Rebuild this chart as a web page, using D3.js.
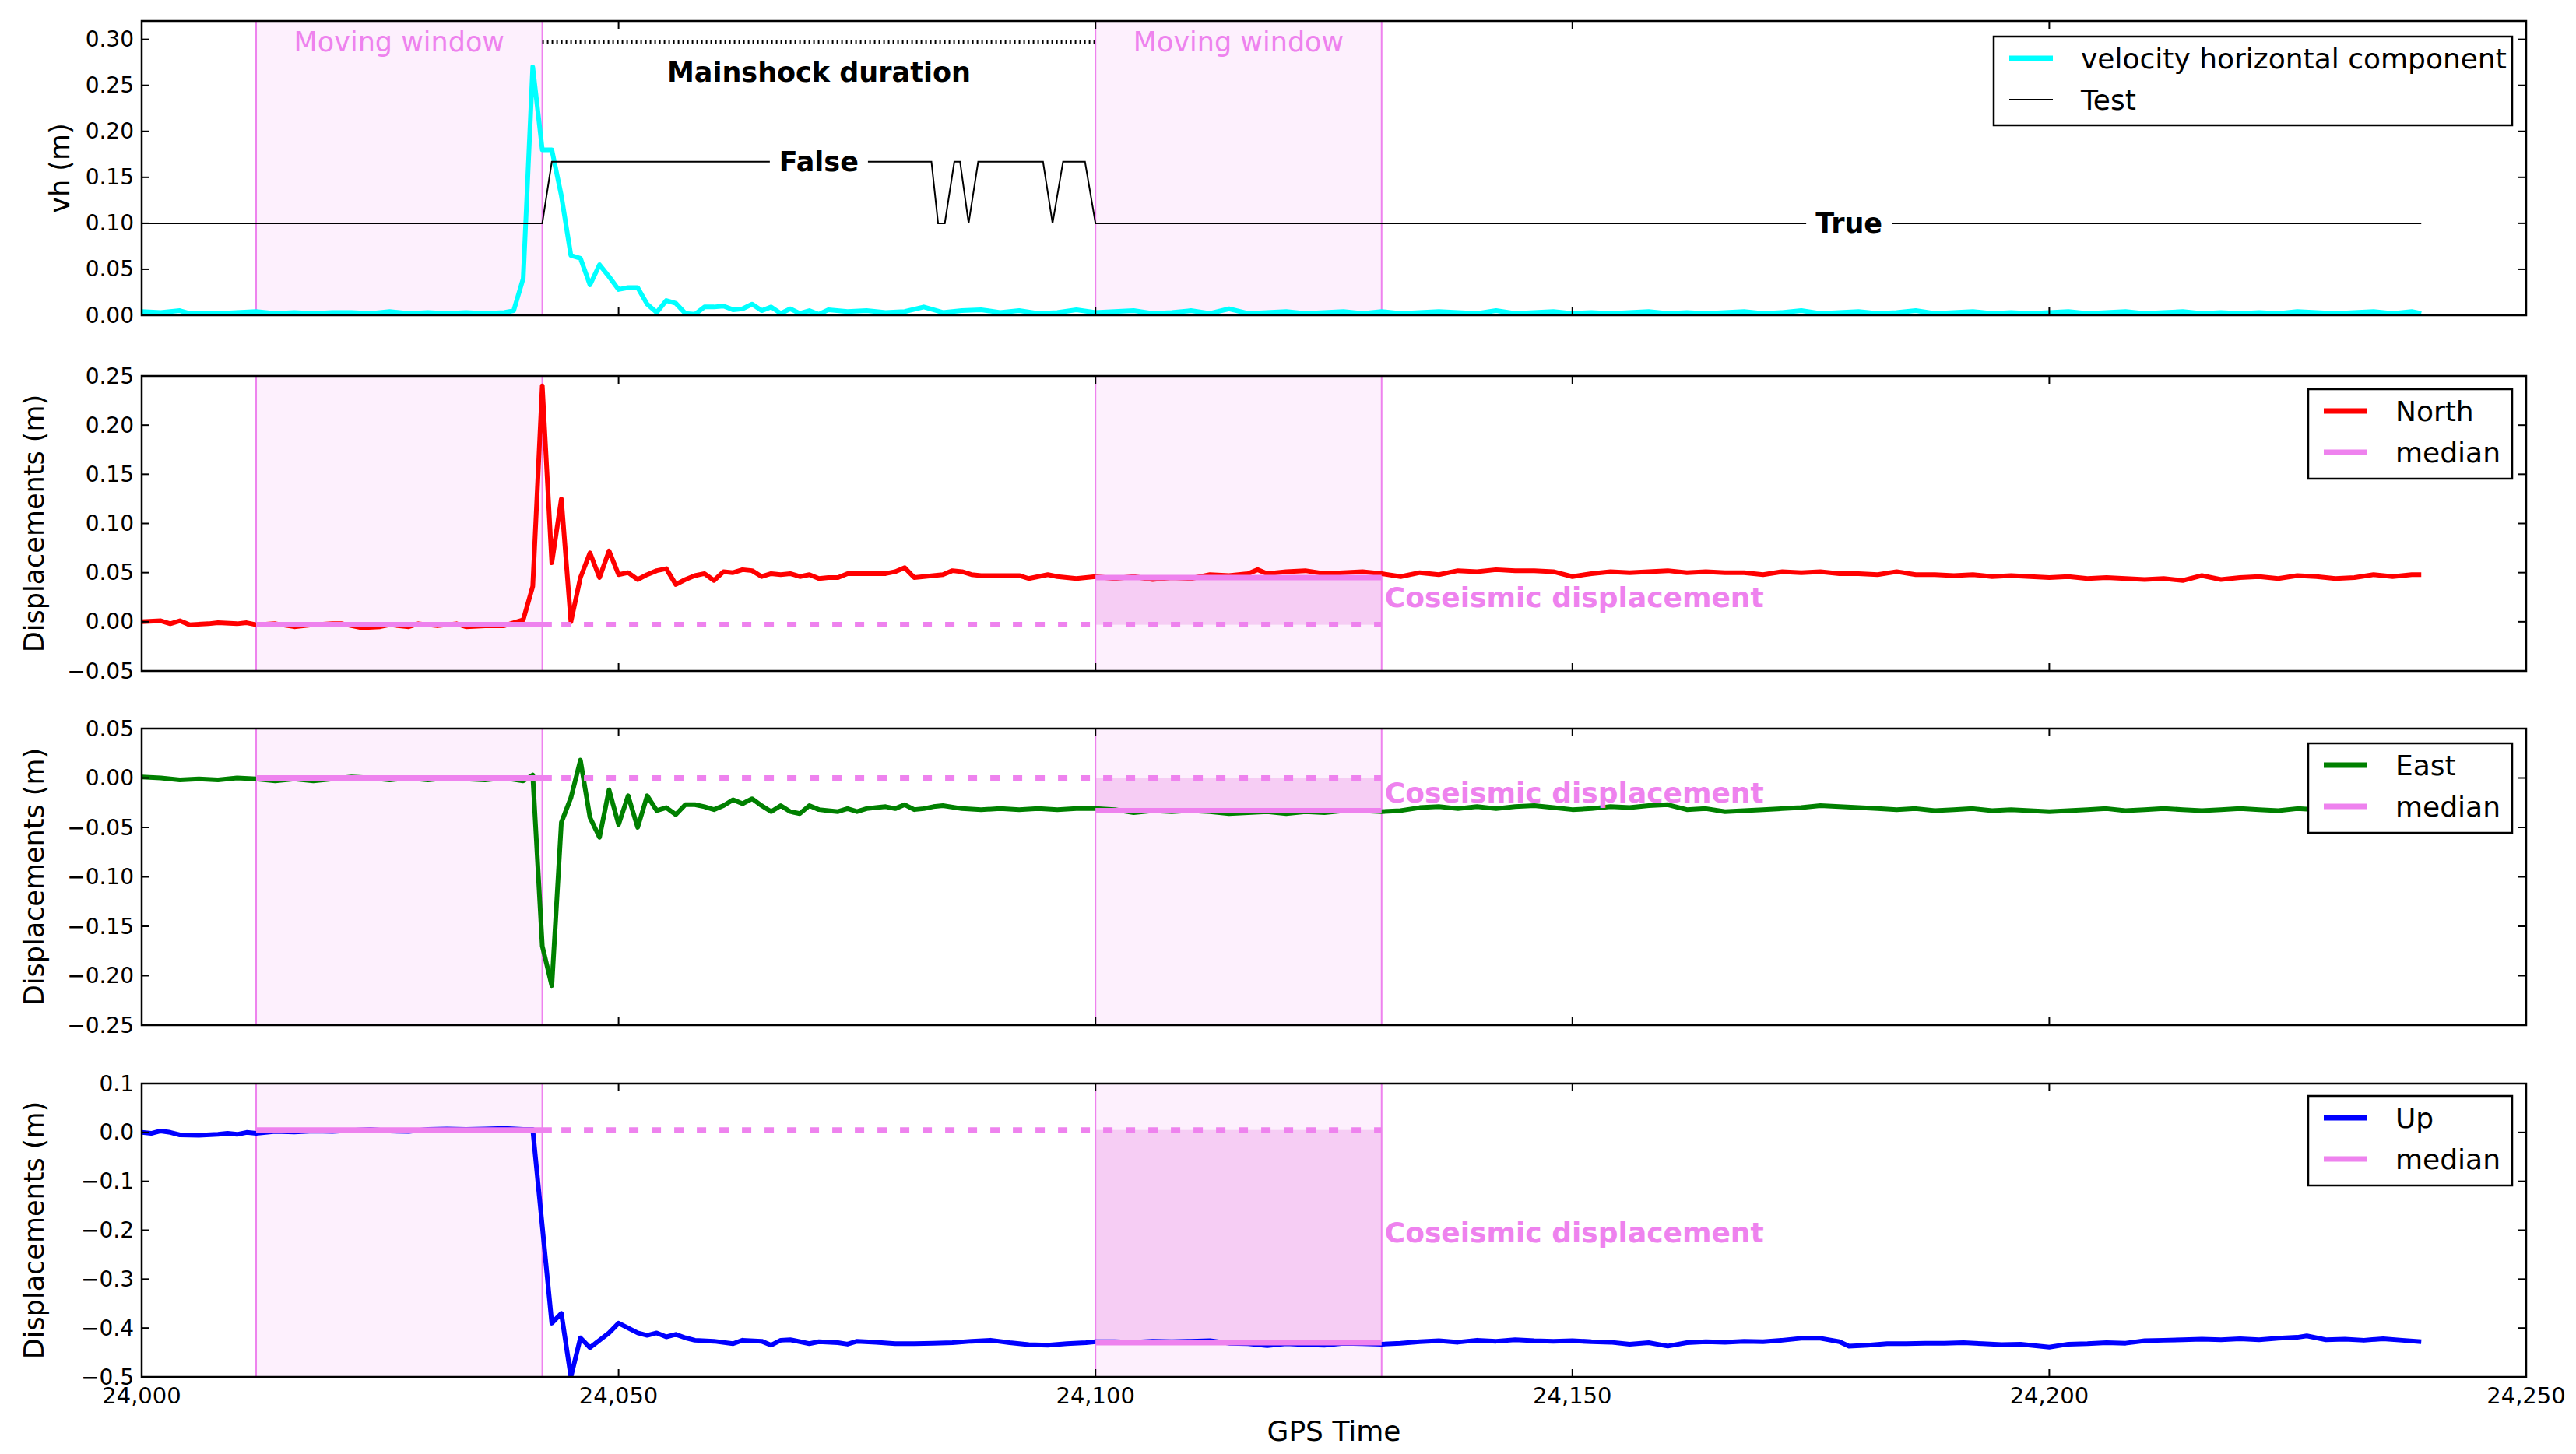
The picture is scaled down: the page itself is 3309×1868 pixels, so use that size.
<!DOCTYPE html>
<html><head><meta charset="utf-8">
<script src="https://cdn.jsdelivr.net/npm/d3@7"></script>
<style>body{margin:0;background:#fff}text{font-family:"DejaVu Sans",sans-serif}</style>
</head><body><svg id="c" width="3309" height="1868"></svg>
<script>
const T0 = 24000;
const xTicks = [24000,24050,24100,24150,24200,24250];
const windowPre = [24012,24042];
const windowPost = [24100,24130];
const vh = [[0,.004],[2,.003],[4,.005],[5,.002],[8,.002],[10,.003],[12,.004],[14,.002],[16,.003],[18,.002],[20,.003],[22,.003],[24,.002],[26,.004],[28,.002],[30,.003],[32,.002],[34,.003],[36,.002],[38,.003],[39,.005],[40,.04],[41,.27],[42,.18],[43,.18],[44,.13],[45,.065],[46,.062],[47,.033],[48,.055],[49,.042],[50,.028],[51,.03],[52,.03],[53,.012],[54,.003],[55,.016],[56,.013],[57,.002],[58,.001],[59,.009],[60,.009],[61,.01],[62,.006],[63,.007],[64,.012],[65,.005],[66,.009],[67,.002],[68,.007],[69,.002],[70,.005],[71,.001],[72,.006],[74,.004],[76,.005],[78,.003],[80,.004],[82,.009],[84,.003],[86,.005],[88,.006],[90,.003],[92,.005],[94,.002],[96,.003],[98,.006],[100,.003],[102,.004],[104,.005],[106,.002],[108,.003],[110,.005],[112,.002],[114,.007],[116,.002],[118,.003],[120,.004],[122,.002],[124,.003],[126,.004],[128,.002],[130,.004],[132,.002],[134,.003],[136,.004],[138,.003],[140,.002],[142,.005],[144,.002],[146,.003],[148,.004],[150,.002],[152,.003],[154,.002],[156,.003],[158,.004],[160,.002],[162,.003],[164,.002],[166,.003],[168,.004],[170,.002],[172,.003],[174,.005],[176,.002],[178,.003],[180,.004],[182,.002],[184,.003],[186,.005],[188,.002],[190,.003],[192,.004],[194,.002],[196,.003],[198,.002],[200,.003],[202,.004],[204,.002],[206,.003],[208,.004],[210,.002],[212,.003],[214,.004],[216,.002],[218,.003],[220,.002],[222,.003],[224,.002],[226,.004],[228,.003],[230,.002],[232,.003],[234,.004],[236,.002],[238,.004],[239,.002]];
const test = [[0,.1],[42,.1],[43,.167],[82.8,.167],[83.5,.1],[84.2,.1],[85.2,.167],[85.8,.167],[86.7,.1],[87.7,.167],[94.5,.167],[95.5,.1],[96.6,.167],[98.9,.167],[100,.1],[239,.1]];
const north = [[0,0],[2,.001],[3,-.002],[4,.001],[5,-.003],[7,-.002],[8,-.001],[10,-.002],[11,-.001],[12,-.003],[14,-.002],[16,-.005],[18,-.003],[20,-.002],[21,-.002],[23,-.006],[25,-.005],[26,-.003],[28,-.005],[29,-.002],[31,-.004],[33,-.002],[34,-.005],[36,-.004],[38,-.004],[39,-.001],[40,.002],[41,.036],[42,.24],[43,.06],[44,.125],[45,0],[46,.045],[47,.07],[48,.045],[49,.072],[50,.048],[51,.05],[52,.043],[53,.048],[54,.052],[55,.054],[56,.038],[57,.043],[58,.047],[59,.049],[60,.042],[61,.051],[62,.05],[63,.053],[64,.052],[65,.046],[66,.049],[67,.048],[68,.049],[69,.046],[70,.048],[71,.044],[72,.045],[73,.045],[74,.049],[76,.049],[78,.049],[79,.051],[80,.055],[81,.045],[82,.046],[84,.048],[85,.052],[86,.051],[87,.048],[88,.047],[90,.047],[92,.047],[93,.044],[95,.048],[96,.046],[98,.044],[100,.046],[102,.044],[104,.046],[106,.043],[108,.045],[110,.044],[112,.048],[114,.047],[116,.049],[117,.053],[118,.049],[120,.051],[122,.052],[124,.049],[126,.05],[128,.051],[130,.049],[132,.046],[134,.05],[136,.048],[138,.052],[140,.051],[142,.053],[144,.052],[146,.052],[148,.051],[150,.046],[152,.049],[154,.051],[156,.05],[158,.051],[160,.052],[162,.05],[164,.051],[166,.05],[168,.05],[170,.048],[172,.051],[174,.05],[176,.051],[178,.049],[180,.049],[182,.048],[184,.051],[186,.048],[188,.048],[190,.047],[192,.048],[194,.046],[196,.047],[198,.046],[200,.045],[202,.046],[204,.044],[206,.045],[208,.044],[210,.043],[212,.044],[214,.042],[216,.047],[218,.043],[220,.045],[222,.046],[224,.044],[226,.047],[228,.046],[230,.044],[232,.045],[234,.048],[236,.046],[238,.048],[239,.048]];
const east = [[0,.001],[2,0],[4,-.002],[6,-.001],[8,-.002],[10,0],[12,-.001],[14,-.003],[16,-.001],[18,-.003],[20,-.001],[22,.001],[24,0],[26,-.002],[28,0],[30,-.002],[32,0],[34,-.001],[36,-.002],[38,0],[40,-.003],[41,.003],[42,-.17],[43,-.21],[44,-.045],[45,-.02],[46,.018],[47,-.04],[48,-.06],[49,-.012],[50,-.047],[51,-.018],[52,-.05],[53,-.018],[54,-.033],[55,-.03],[56,-.037],[57,-.027],[58,-.027],[59,-.029],[60,-.032],[61,-.028],[62,-.022],[63,-.026],[64,-.021],[65,-.028],[66,-.034],[67,-.028],[68,-.034],[69,-.036],[70,-.028],[71,-.032],[72,-.033],[73,-.034],[74,-.031],[75,-.034],[76,-.031],[77,-.03],[78,-.029],[79,-.031],[80,-.027],[81,-.032],[82,-.031],[83,-.029],[84,-.028],[86,-.031],[88,-.032],[90,-.031],[92,-.032],[94,-.031],[96,-.032],[98,-.031],[100,-.031],[102,-.032],[104,-.035],[106,-.033],[108,-.034],[110,-.033],[112,-.034],[114,-.036],[116,-.035],[118,-.034],[120,-.036],[122,-.034],[124,-.035],[126,-.033],[128,-.033],[130,-.034],[132,-.033],[134,-.03],[136,-.029],[138,-.031],[140,-.029],[142,-.031],[144,-.029],[146,-.028],[148,-.03],[150,-.032],[152,-.031],[154,-.029],[156,-.03],[158,-.028],[160,-.027],[162,-.032],[164,-.031],[166,-.034],[168,-.033],[170,-.032],[172,-.031],[174,-.03],[176,-.028],[178,-.029],[180,-.03],[182,-.031],[184,-.032],[186,-.031],[188,-.033],[190,-.032],[192,-.031],[194,-.033],[196,-.032],[198,-.033],[200,-.034],[202,-.033],[204,-.032],[206,-.031],[208,-.033],[210,-.032],[212,-.031],[214,-.032],[216,-.033],[218,-.032],[220,-.031],[222,-.032],[224,-.033],[226,-.031],[228,-.032],[230,-.033],[232,-.031],[234,-.032],[236,-.033],[238,-.032],[239,-.033]];
const up = [[0,0],[1,-.002],[2,.003],[3,0],[4,-.005],[6,-.006],[8,-.004],[9,-.002],[10,-.004],[11,0],[12,-.002],[14,.002],[16,.001],[18,.003],[20,.002],[22,.004],[24,.006],[26,.003],[28,.002],[30,.006],[32,.007],[34,.006],[36,.007],[38,.008],[40,.006],[41,.006],[43,-.39],[44,-.37],[45,-.5],[46,-.42],[47,-.44],[48,-.425],[49,-.41],[50,-.39],[51,-.4],[52,-.41],[53,-.415],[54,-.41],[55,-.418],[56,-.413],[57,-.42],[58,-.425],[60,-.427],[62,-.432],[63,-.425],[65,-.427],[66,-.435],[67,-.425],[68,-.424],[70,-.432],[71,-.428],[73,-.43],[74,-.433],[75,-.427],[77,-.429],[79,-.432],[81,-.432],[83,-.431],[85,-.43],[87,-.427],[89,-.425],[91,-.43],[93,-.434],[95,-.435],[97,-.432],[99,-.43],[100,-.428],[102,-.428],[104,-.429],[106,-.427],[108,-.428],[110,-.427],[112,-.426],[114,-.431],[116,-.432],[118,-.436],[120,-.432],[122,-.434],[124,-.435],[126,-.431],[128,-.432],[130,-.433],[132,-.431],[134,-.428],[136,-.426],[138,-.429],[140,-.425],[142,-.427],[144,-.424],[146,-.426],[148,-.427],[150,-.426],[152,-.428],[154,-.429],[156,-.433],[158,-.43],[160,-.437],[162,-.43],[164,-.428],[166,-.429],[168,-.427],[170,-.428],[172,-.425],[174,-.421],[176,-.421],[178,-.428],[179,-.437],[181,-.435],[183,-.432],[185,-.432],[187,-.431],[189,-.431],[191,-.43],[193,-.432],[195,-.434],[197,-.433],[199,-.437],[200,-.439],[202,-.433],[204,-.432],[206,-.43],[208,-.431],[210,-.426],[212,-.425],[214,-.424],[216,-.423],[218,-.424],[220,-.422],[222,-.424],[224,-.421],[226,-.419],[227,-.416],[229,-.424],[231,-.423],[233,-.425],[235,-.422],[237,-.425],[239,-.428]];
const medNorth = [-0.003, 0.045];
const medEast = [0.0, -0.033];
const medUp = [0.005, -0.43];

const svg = d3.select('#c');
const L = 182, R = 3245;
const x = d3.scaleLinear().domain([24000,24250]).range([L,R]);
const panels = [
  {top:27,bot:405,dom:[0,0.32],ticks:d3.range(0,0.301,0.05),fmt:d3.format('.2f'),label:'vh (m)',lx:77},
  {top:483,bot:862,dom:[-0.05,0.25],ticks:d3.range(-0.05,0.251,0.05),fmt:d3.format('.2f'),label:'Displacements (m)',lx:44,data:north,col:'red',name:'North',med:medNorth,cx:0.015,leg:[2965,500]},
  {top:936,bot:1317,dom:[-0.25,0.05],ticks:d3.range(-0.25,0.051,0.05),fmt:d3.format('.2f'),label:'Displacements (m)',lx:44,data:east,col:'green',name:'East',med:medEast,cx:-0.025,leg:[2965,955]},
  {top:1392,bot:1769,dom:[-0.5,0.1],ticks:d3.range(-0.5,0.101,0.1),fmt:d3.format('.1f'),label:'Displacements (m)',lx:44,data:up,col:'blue',name:'Up',med:medUp,cx:-0.225,leg:[2965,1408]}
];
const fmtMinus = f => v => f(Math.abs(v)<1e-9?0:v).replace('-','\u2212');
const violet = '#ee82ee';
panels.forEach((p,i)=>{
  const y = d3.scaleLinear().domain(p.dom).range([p.bot,p.top]);
  const g = svg.append('g');
  const clipId='cl'+i;
  svg.append('clipPath').attr('id',clipId).append('rect').attr('x',L).attr('y',p.top).attr('width',R-L).attr('height',p.bot-p.top);
  [windowPre,windowPost].forEach(w=>{
    g.append('rect').attr('x',x(w[0])).attr('y',p.top).attr('width',x(w[1])-x(w[0])).attr('height',p.bot-p.top).attr('fill','#fdf0fd');
  });
  if(p.med){
    g.append('rect').attr('x',x(windowPost[0])).attr('width',x(windowPost[1])-x(windowPost[0]))
      .attr('y',y(Math.max(...p.med))).attr('height',Math.abs(y(p.med[0])-y(p.med[1]))).attr('fill','#f6cdf4');
  }
  [windowPre[0],windowPre[1],windowPost[0],windowPost[1]].forEach(v=>{
    g.append('line').attr('x1',x(v)).attr('x2',x(v)).attr('y1',p.top).attr('y2',p.bot).attr('stroke',violet).attr('stroke-width',2);
  });
  const dg = g.append('g').attr('clip-path',`url(#${clipId})`);
  const line = d3.line().x(d=>x(T0+d[0])).y(d=>y(d[1]));
  if(i===0){
    dg.append('path').datum(vh).attr('d',line).attr('fill','none').attr('stroke','cyan').attr('stroke-width',6).attr('stroke-linejoin','round');
    dg.append('path').datum(test).attr('d',line).attr('fill','none').attr('stroke','black').attr('stroke-width',2);
    const lab=(tx,ty,txt)=>{
      const t=g.append('text').attr('x',x(tx)).attr('y',y(ty)).attr('text-anchor','middle').attr('dominant-baseline','central')
        .attr('font-size',35).attr('font-weight','bold').text(txt);
      const b=t.node().getBBox();
      g.insert('rect',()=>t.node()).attr('x',b.x-12).attr('y',b.y).attr('width',b.width+24).attr('height',b.height).attr('fill','white');
    };
    lab(24071,0.167,'False'); lab(24179,0.1,'True');
    g.append('line').attr('x1',x(24042)).attr('x2',x(24100)).attr('y1',y(0.2975)).attr('y2',y(0.2975)).attr('stroke','black').attr('stroke-width',5).attr('stroke-dasharray','2,4');
    g.append('text').attr('x',x(24071)).attr('y',y(0.264)).attr('text-anchor','middle').attr('dominant-baseline','central').attr('font-size',35).attr('font-weight','bold').text('Mainshock duration');
    [windowPre,windowPost].forEach(w=>g.append('text').attr('x',x((w[0]+w[1])/2)).attr('y',y(0.297)).attr('text-anchor','middle').attr('dominant-baseline','central').attr('font-size',35).attr('fill',violet).text('Moving window'));
  } else {
    dg.append('path').datum(p.data).attr('d',line).attr('fill','none').attr('stroke',p.col).attr('stroke-width',6).attr('stroke-linejoin','round');
    const hl=(a,b,v,dash)=>{const l=dg.append('line').attr('x1',x(a)).attr('x2',x(b)).attr('y1',y(v)).attr('y2',y(v)).attr('stroke',violet).attr('stroke-width',7);if(dash)l.attr('stroke-dasharray','12,17');};
    hl(windowPre[0],windowPre[1]+1,p.med[0]);
    hl(windowPre[1]+2,windowPost[1],p.med[0],true);
    hl(windowPost[0],windowPost[1],p.med[1]);
    g.append('text').attr('x',x(windowPost[1])+4).attr('y',y(p.cx)).attr('font-size',36).attr('font-weight','bold').attr('fill',violet).text('Coseismic displacement');
  }
  g.append('rect').attr('x',L).attr('y',p.top).attr('width',R-L).attr('height',p.bot-p.top).attr('fill','none').attr('stroke','black').attr('stroke-width',2.5);
  xTicks.forEach(v=>{
    g.append('line').attr('x1',x(v)).attr('x2',x(v)).attr('y1',p.bot).attr('y2',p.bot-10).attr('stroke','black').attr('stroke-width',2);
    g.append('line').attr('x1',x(v)).attr('x2',x(v)).attr('y1',p.top).attr('y2',p.top+10).attr('stroke','black').attr('stroke-width',2);
  });
  const f=fmtMinus(p.fmt);
  p.ticks.forEach(v=>{
    g.append('line').attr('x1',L).attr('x2',L+10).attr('y1',y(v)).attr('y2',y(v)).attr('stroke','black').attr('stroke-width',2);
    g.append('line').attr('x1',R).attr('x2',R-10).attr('y1',y(v)).attr('y2',y(v)).attr('stroke','black').attr('stroke-width',2);
    g.append('text').attr('x',L-10).attr('y',y(v)).attr('text-anchor','end').attr('dominant-baseline','central').attr('font-size',28).text(f(v));
  });
  g.append('text').attr('transform',`translate(${p.lx},${(p.top+p.bot)/2}) rotate(-90)`).attr('text-anchor','middle').attr('dominant-baseline','central').attr('font-size',35).text(p.label);
  let items, lx, ly, lw, lh;
  if(i===0){items=[['cyan',7,'velocity horizontal component'],['black',2,'Test']];lx=2561;ly=47;lw=666;lh=114;}
  else {items=[[p.col,7,p.name],[violet,7,'median']];lx=p.leg[0];ly=p.leg[1];lw=262;lh=115;}
  g.append('rect').attr('x',lx).attr('y',ly).attr('width',lw).attr('height',lh).attr('fill','white').attr('stroke','black').attr('stroke-width',2.5);
  items.forEach((it,k)=>{
    const yy=ly+28+k*53;
    g.append('line').attr('x1',lx+20).attr('x2',lx+76).attr('y1',yy).attr('y2',yy).attr('stroke',it[0]).attr('stroke-width',it[1]);
    g.append('text').attr('x',lx+112).attr('y',yy).attr('dominant-baseline','central').attr('font-size',36).text(it[2]);
  });
  if(i===3){
    xTicks.forEach(v=>g.append('text').attr('x',x(v)).attr('y',1793).attr('text-anchor','middle').attr('dominant-baseline','central').attr('font-size',29).text(d3.format(',')(v)));
    g.append('text').attr('x',(L+R)/2).attr('y',1838).attr('text-anchor','middle').attr('dominant-baseline','central').attr('font-size',36).text('GPS Time');
  }
});
</script></body></html>
